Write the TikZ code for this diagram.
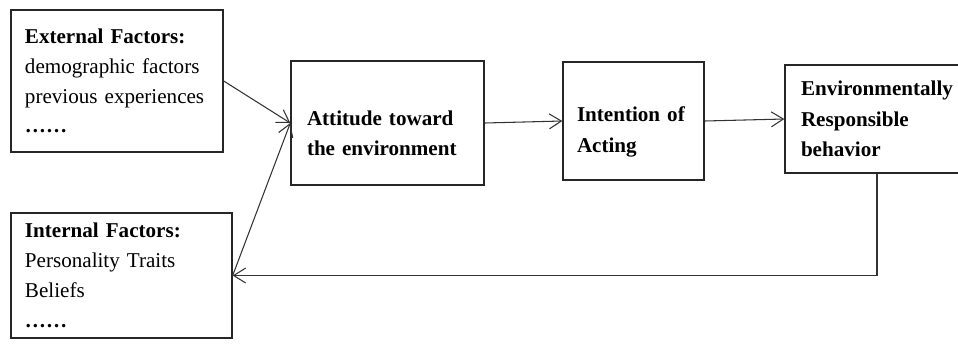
\documentclass[tikz,border=0pt]{standalone}
\usepackage{fontspec}
\setmainfont{Liberation Serif}
\usepackage{tikz}
\usetikzlibrary{positioning,calc,arrows.meta}

\begin{document}
\begin{tikzpicture}[
    fac/.style={draw=black!85, line width=0.8pt, align=left, inner xsep=0.28cm, inner ysep=0pt, font=\fontsize{12}{17}\selectfont},
    stage/.style={fac, inner xsep=0.32cm, font=\fontsize{12}{17.5}\selectfont\bfseries},
    arr/.style={-{Straight Barb[length=2.4mm,width=3mm]}, draw=black!80, line width=0.6pt}
]
\useasboundingbox (0,0) rectangle (19.16,-6.86);

% ---- External Factors ----
\node[fac, text width=3.68cm, minimum height=2.84cm] (ext) at (2.34,-1.62)
    {\textbf{External Factors:}\\ demographic factors\\ previous experiences\\ \textbf{\ldots\ldots}};

% ---- Internal Factors ----
\node[fac, text width=3.86cm, minimum height=2.5cm] (int) at (2.43,-5.51)
    {\textbf{Internal Factors:}\\ Personality Traits\\ Beliefs\\ \textbf{\ldots\ldots}};

% ---- Attitude ----
\node[stage, text width=3.22cm, minimum height=2.48cm] (att) at (7.75,-2.46)
    {\rule{0pt}{20pt}Attitude toward\\ the environment};

% ---- Intention ----
\node[stage, inner xsep=0.28cm, text width=2.26cm, minimum height=2.36cm] (intent) at (12.67,-2.42)
    {\rule{0pt}{21pt}Intention of\\ Acting};

% ---- Behavior ----
\node[stage, text width=3.04cm, minimum height=2.16cm] (erb) at (17.54,-2.38)
    {Environmentally\\ Responsible\\ behavior};

% Relations
\draw[arr] (ext.east) -- (att.west);
\draw[arr] (int.east) -- (att.west);
\draw[arr] (att.east) -- (intent.west);
\draw[arr] (intent.east) -- (erb.west);
\draw[arr] (erb.south) |- (int.east);
\end{tikzpicture}
\end{document}
